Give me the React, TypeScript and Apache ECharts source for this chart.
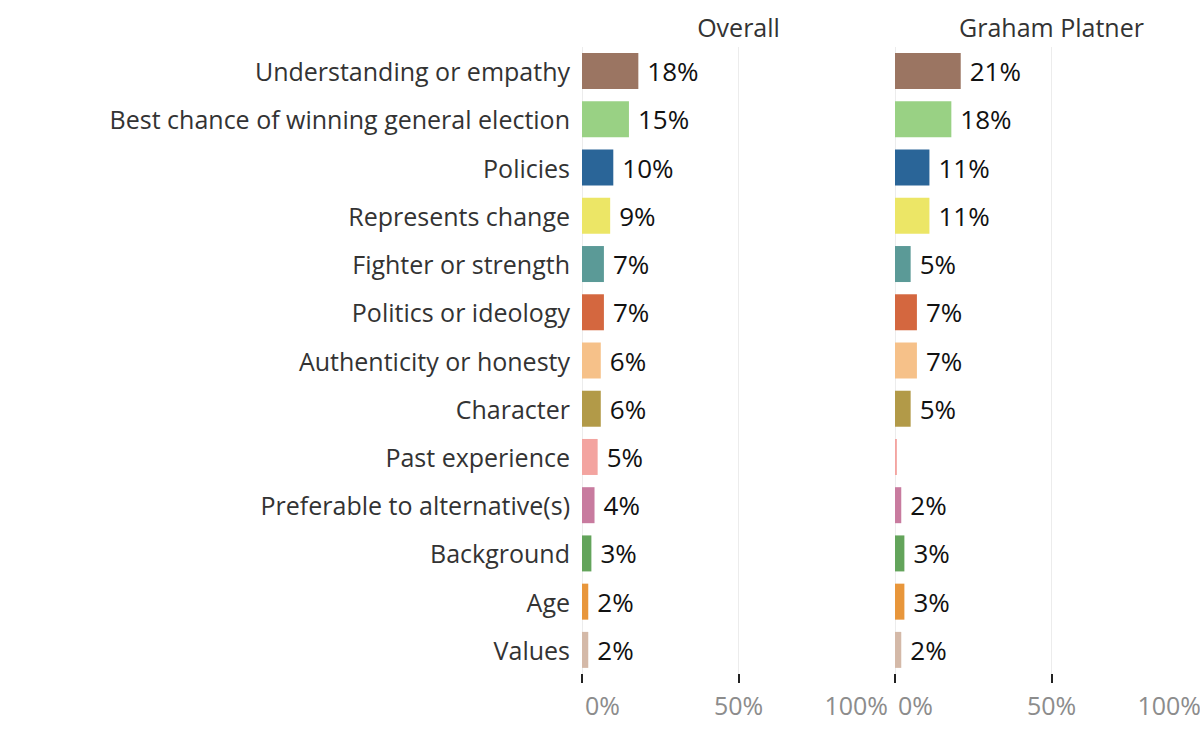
import React, { useEffect, useRef } from "react";
import * as echarts from "echarts";

const categories = [
  "Understanding or empathy",
  "Best chance of winning general election",
  "Policies",
  "Represents change",
  "Fighter or strength",
  "Politics or ideology",
  "Authenticity or honesty",
  "Character",
  "Past experience",
  "Preferable to alternative(s)",
  "Background",
  "Age",
  "Values",
];
const colors = [
  "#9b7562", "#99d184", "#2a6598", "#ece666", "#5b9a97", "#d4673f", "#f6c189",
  "#b29a48", "#f3a4a0", "#c87b9f", "#63a45b", "#e8963b", "#d4b9a8",
];
const overallValues = [18, 15, 10, 9, 7, 7, 6, 6, 5, 4, 3, 2, 2];
const overallLabels = ["18%", "15%", "10%", "9%", "7%", "7%", "6%", "6%", "5%", "4%", "3%", "2%", "2%"];
const platnerValues = [21, 18, 11, 11, 5, 7, 7, 5, 0.6, 2, 3, 3, 2];
const platnerLabels = ["21%", "18%", "11%", "11%", "5%", "7%", "7%", "5%", "", "2%", "3%", "3%", "2%"];
const panelTitles = ["Overall", "Graham Platner"];
const xTicks = [0, 50, 100];

const FONT = "'Open Sans', 'Noto Sans', sans-serif";

export default function App() {
  const ref = useRef<HTMLDivElement>(null);
  useEffect(() => {
    if (!ref.current) return;
    const chart = echarts.init(ref.current, null, { renderer: "svg" });
    const gridLefts = [582, 895];
    const gridW = 313;
    const tickStyle = { color: "#8c8c8c", fontSize: 25, fontFamily: FONT };
    const mkX = (i: number) => ({
      type: "value",
      gridIndex: i,
      min: xTicks[0],
      max: xTicks[xTicks.length - 1],
      interval: xTicks[1] - xTicks[0],
      axisLine: { show: false },
      axisTick: { show: true, length: 9, lineStyle: { color: "#222", width: 2 } },
      axisLabel: {
        formatter: (v: number) =>
          v === xTicks[0] ? `{l|${v}%}` : v === xTicks[xTicks.length - 1] ? `{r|${v}%}` : `{m|${v}%}`,
        rich: {
          l: { ...tickStyle, padding: [0, 0, 0, 3] },
          r: { ...tickStyle, padding: [0, 7, 0, 0] },
          m: { ...tickStyle },
        },
        ...tickStyle,
        margin: 18,
        alignMinLabel: "left",
        alignMaxLabel: "right",
      },
      splitLine: { show: true, lineStyle: { color: "#ececec", width: 1 } },
    });
    const mkY = (i: number) => ({
      type: "category",
      gridIndex: i,
      data: categories,
      inverse: true,
      axisLine: { show: false },
      axisTick: { show: false },
      axisLabel: {
        show: i === 0,
        color: "#333333",
        fontSize: 25,
        fontFamily: FONT,
        margin: 12,
      },
    });
    const mkSeries = (i: number, vals: number[], labels: string[]) => ({
      type: "bar",
      xAxisIndex: i,
      yAxisIndex: i,
      barWidth: 36,
      data: vals.map((v, k) => ({ value: v, itemStyle: { color: colors[k] } })),
      label: {
        show: true,
        position: "right",
        distance: 9,
        color: "#111111",
        fontSize: 26,
        fontFamily: FONT,
        formatter: (p: any) => labels[p.dataIndex],
      },
    });
    chart.setOption({
      animation: false,
      backgroundColor: "#ffffff",
      title: panelTitles.map((t, i) => ({
        text: t,
        left: gridLefts[i] + gridW / 2 - 5,
        textAlign: "center",
        top: 9,
        textStyle: { color: "#333333", fontSize: 25, fontWeight: "normal", fontFamily: FONT },
      })),
      grid: gridLefts.map((l) => ({ left: l, width: gridW, top: 47, height: 627 })),
      xAxis: [mkX(0), mkX(1)],
      yAxis: [mkY(0), mkY(1)],
      series: [
        mkSeries(0, overallValues, overallLabels),
        mkSeries(1, platnerValues, platnerLabels),
      ],
    });
    return () => chart.dispose();
  }, []);
  return (
    <div style={{ position: "fixed", left: 0, top: 0, width: 1200, height: 731, overflow: "hidden", background: "#fff" }}>
      <div ref={ref} style={{ position: "absolute", left: 0, top: 0, width: 1220, height: 731 }} />
    </div>
  );
}
